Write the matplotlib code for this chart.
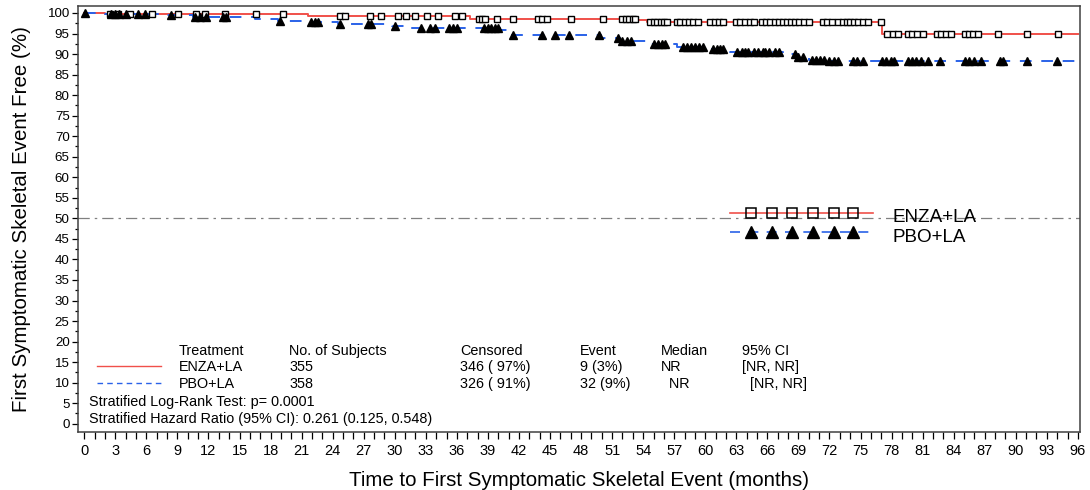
import numpy as np
import matplotlib.pyplot as plt
from matplotlib.ticker import MultipleLocator

plt.rcParams['font.family'] = ['Liberation Sans', 'DejaVu Sans']

# Kaplan-Meier step points (months, % event free)
enza_t = [0, 2.0, 21.6, 37.3, 53.4, 54.4, 77.1, 96]
enza_s = [100, 99.7, 99.2, 98.6, 98.3, 97.9, 95.0, 95.0]

pbo_t = [0, 2.0, 7.5, 10.5, 16.5, 18.7, 21.6, 24.5, 29.7, 31.6, 40.2, 41.2,
         49.9, 51.8, 54.7, 57.3, 60.0, 62.4, 67.5, 69.0, 70.0, 72.0, 96]
pbo_s = [100, 99.7, 99.4, 99.1, 98.6, 98.1, 97.7, 97.3, 96.8, 96.3, 95.8, 94.6,
         93.9, 93.2, 92.4, 91.7, 91.3, 90.6, 89.9, 89.3, 88.5, 88.2, 88.2]

# censored times
enza_cens = [2.5, 3.3, 4.4, 6.5, 9.1, 10.8, 11.7, 13.6, 16.6, 19.2, 24.7, 25.2,
             27.6, 28.7, 30.3, 31.1, 32.0, 33.1, 34.2, 35.8, 36.5, 38.1, 38.4,
             38.7, 39.9, 41.4, 43.8, 44.2, 44.7, 47.0, 50.1, 52.0, 52.3, 52.6,
             53.0, 53.2, 54.7, 55.0, 55.3, 55.7, 56.0, 56.3, 57.3, 57.6, 58.0,
             58.4, 58.8, 59.3, 60.5, 60.9, 61.3, 61.7, 63.0, 63.4, 63.8, 64.3,
             64.7, 65.5, 65.9, 66.3, 66.7, 67.1, 67.5, 67.9, 68.3, 68.7, 69.1,
             69.5, 70.0, 71.4, 71.8, 72.2, 72.8, 73.3, 73.7, 74.0, 74.4, 74.8,
             75.2, 75.7, 77.0, 77.6, 78.1, 78.6, 79.6, 80.0, 80.5, 81.0, 82.4,
             82.8, 83.3, 83.7, 85.1, 85.5, 85.9, 86.3, 88.3, 91.1, 94.1]
pbo_cens = [0.1, 2.6, 3.0, 3.4, 4.0, 5.2, 5.9, 8.4, 10.7, 11.2, 11.8, 13.4,
            13.7, 18.9, 21.9, 22.3, 22.6, 24.7, 27.4, 27.7, 30.0, 32.5, 33.4,
            33.9, 35.2, 35.6, 36.0, 38.6, 39.0, 39.3, 39.7, 40.0, 41.4, 44.2,
            45.5, 46.8, 49.7, 51.6, 52.0, 52.4, 52.8, 55.0, 55.4, 55.8, 56.1,
            57.8, 58.2, 58.6, 59.0, 59.4, 59.8, 60.7, 61.1, 61.4, 61.7, 63.1,
            63.5, 63.8, 64.1, 64.7, 65.1, 65.6, 65.8, 66.2, 66.7, 67.1, 68.7,
            69.0, 69.4, 70.3, 70.7, 71.1, 71.5, 72.0, 72.4, 72.8, 74.3, 74.7,
            75.2, 77.1, 77.5, 77.9, 78.2, 79.6, 80.0, 80.4, 80.8, 81.5, 82.7,
            85.1, 85.5, 86.0, 86.6, 88.5, 88.8, 91.1, 94.0]

groups = ['ENZA+LA', 'PBO+LA']
n_subj = ['355', '358']
censored = ['346 ( 97%)', '326 ( 91%)']
events = ['9 (3%)', '32 (9%)']
medians = ['NR', '  NR']
ci95 = ['[NR, NR]', '  [NR, NR]']
logrank = 'Stratified Log-Rank Test: p= 0.0001'
hazard = 'Stratified Hazard Ratio (95% CI): 0.261 (0.125, 0.548)'

red = '#f0504a'
blue = '#2a62e8'


def surv_at(times, surv, cens):
    idx = np.searchsorted(times, cens, side='right') - 1
    return np.array(surv)[idx]


fig = plt.figure(figsize=(10.9, 4.9), dpi=100)
ax = fig.add_axes([0.0716, 0.1184, 0.9192, 0.8694])

ax.axhline(50, color='#808080', lw=0.9, dashes=(9, 4, 2, 4))

ax.step(enza_t, enza_s, where='post', color=red, lw=1.4)
ax.step(pbo_t, pbo_s, where='post', color=blue, lw=1.4, dashes=(6, 5))

ax.plot(enza_cens, surv_at(enza_t, enza_s, enza_cens), 's', ms=5,
        mfc='white', mec='black', mew=1.0, ls='none')
ax.plot(pbo_cens, surv_at(pbo_t, pbo_s, pbo_cens), '^', ms=6,
        mfc='black', mec='black', ls='none')

# legend drawn inside the plot
leg_x = np.array([64.4, 66.4, 68.4, 70.4, 72.4, 74.3])
ax.plot([62.4, 76.2], [51.2, 51.2], color=red, lw=1.2)
ax.plot(leg_x, [51.2] * len(leg_x), 's', ms=7.5, mfc='none', mec='black',
        mew=1.1, ls='none')
ax.text(78.1, 50.3, groups[0], fontsize=13.6, va='center')
ax.plot([62.4, 76.2], [46.6, 46.6], color=blue, lw=1.2, dashes=(6, 5))
ax.plot(leg_x, [46.6] * len(leg_x), '^', ms=8.5, mfc='black', mec='black',
        ls='none')
ax.text(78.1, 45.4, groups[1], fontsize=13.6, va='center')

# summary table
fs = 10.4
cols = [9.1, 19.8, 36.3, 47.9, 55.7, 63.5]
heads = ['Treatment', 'No. of Subjects', 'Censored', 'Event', 'Median', '95% CI']
for x, h in zip(cols, heads):
    ax.text(x, 17.6, h, fontsize=fs, va='center')
row_y = [13.7, 9.8]
for i in range(2):
    vals = [groups[i], n_subj[i], censored[i], events[i], medians[i], ci95[i]]
    for x, v in zip(cols, vals):
        ax.text(x, row_y[i], v, fontsize=fs, va='center')
ax.plot([1.25, 7.4], [14.1, 14.1], color=red, lw=1.0)
ax.plot([1.25, 7.4], [10.0, 10.0], color=blue, lw=1.0, dashes=(4, 3))
ax.text(0.5, 5.4, logrank, fontsize=fs, va='center')
ax.text(0.5, 1.2, hazard, fontsize=fs, va='center')

ax.set_xlim(-0.6, 96.2)
ax.set_ylim(-2, 101.7)
ax.xaxis.set_major_locator(MultipleLocator(3))
ax.xaxis.set_minor_locator(MultipleLocator(1))
ax.yaxis.set_major_locator(MultipleLocator(5))
ax.yaxis.set_minor_locator(MultipleLocator(2.5))
ax.tick_params(axis='x', which='both', length=5, width=0.9, labelsize=10.5, pad=4)
ax.tick_params(axis='y', which='major', length=4, width=0.9, labelsize=9.6, pad=2)
ax.tick_params(axis='y', which='minor', length=2.5, width=0.9)
for s in ax.spines.values():
    s.set_linewidth(1.1)
    s.set_color('#404040')

ax.set_xlabel('Time to First Symptomatic Skeletal Event (months)', fontsize=14.8,
              labelpad=9)
ax.set_ylabel('First Symptomatic Skeletal Event Free (%)', fontsize=14.8, labelpad=12)

plt.savefig('out.png', dpi=100)
